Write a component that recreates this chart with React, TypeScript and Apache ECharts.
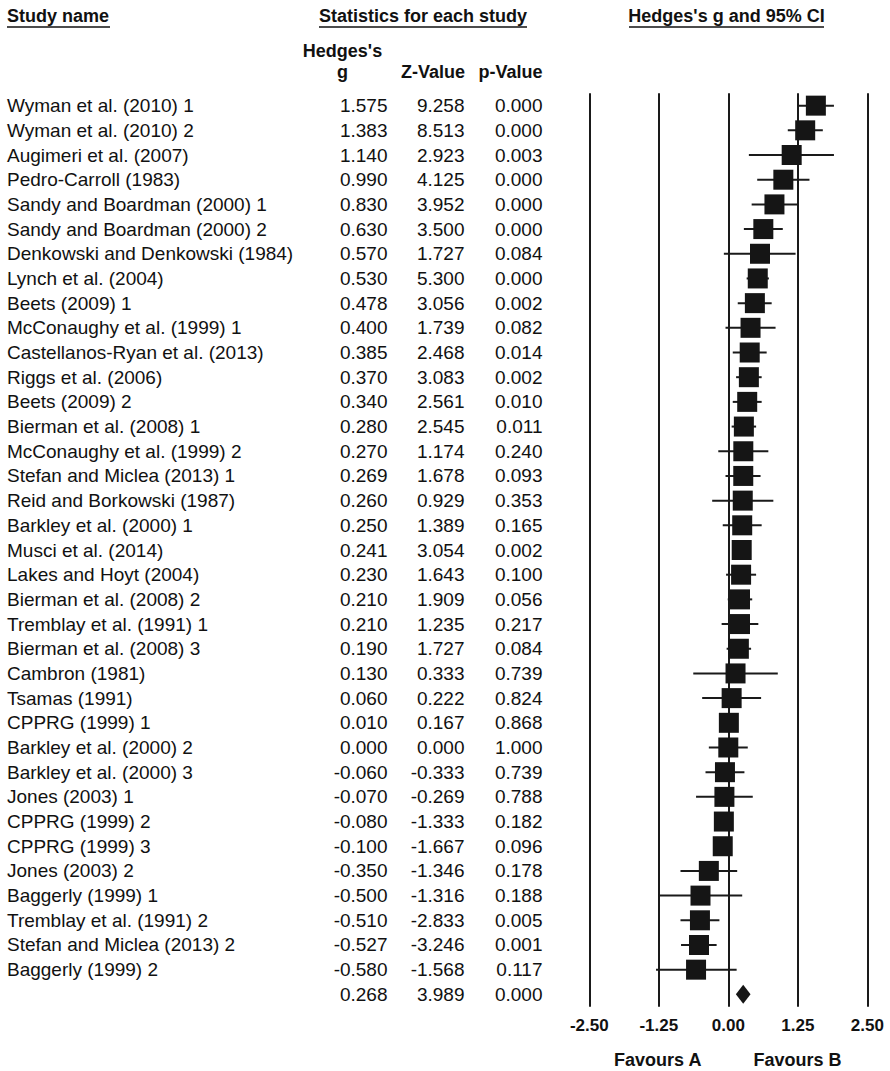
import React, { useEffect, useRef } from "react";
import * as echarts from "echarts";

const studies = [
  "Wyman et al. (2010) 1",
  "Wyman et al. (2010) 2",
  "Augimeri et al. (2007)",
  "Pedro-Carroll (1983)",
  "Sandy and Boardman (2000) 1",
  "Sandy and Boardman (2000) 2",
  "Denkowski and Denkowski (1984)",
  "Lynch et al. (2004)",
  "Beets (2009) 1",
  "McConaughy et al. (1999) 1",
  "Castellanos-Ryan et al. (2013)",
  "Riggs et al. (2006)",
  "Beets (2009) 2",
  "Bierman et al. (2008) 1",
  "McConaughy et al. (1999) 2",
  "Stefan and Miclea (2013) 1",
  "Reid and Borkowski (1987)",
  "Barkley et al. (2000) 1",
  "Musci et al. (2014)",
  "Lakes and Hoyt (2004)",
  "Bierman et al. (2008) 2",
  "Tremblay et al. (1991) 1",
  "Bierman et al. (2008) 3",
  "Cambron (1981)",
  "Tsamas (1991)",
  "CPPRG (1999) 1",
  "Barkley et al. (2000) 2",
  "Barkley et al. (2000) 3",
  "Jones (2003) 1",
  "CPPRG (1999) 2",
  "CPPRG (1999) 3",
  "Jones (2003) 2",
  "Baggerly (1999) 1",
  "Tremblay et al. (1991) 2",
  "Stefan and Miclea (2013) 2",
  "Baggerly (1999) 2",
];

const hedgesG = [
  1.575, 1.383, 1.14, 0.99, 0.83, 0.63, 0.57, 0.53, 0.478, 0.4, 0.385, 0.37,
  0.34, 0.28, 0.27, 0.269, 0.26, 0.25, 0.241, 0.23, 0.21, 0.21, 0.19, 0.13,
  0.06, 0.01, 0.0, -0.06, -0.07, -0.08, -0.1, -0.35, -0.5, -0.51, -0.527, -0.58,
];

const zValues = [
  9.258, 8.513, 2.923, 4.125, 3.952, 3.5, 1.727, 5.3, 3.056, 1.739, 2.468,
  3.083, 2.561, 2.545, 1.174, 1.678, 0.929, 1.389, 3.054, 1.643, 1.909, 1.235,
  1.727, 0.333, 0.222, 0.167, 0.0, -0.333, -0.269, -1.333, -1.667, -1.346,
  -1.316, -2.833, -3.246, -1.568,
];

const pValues = [
  0.0, 0.0, 0.003, 0.0, 0.0, 0.0, 0.084, 0.0, 0.002, 0.082, 0.014, 0.002, 0.01,
  0.011, 0.24, 0.093, 0.353, 0.165, 0.002, 0.1, 0.056, 0.217, 0.084, 0.739,
  0.824, 0.868, 1.0, 0.739, 0.788, 0.182, 0.096, 0.178, 0.188, 0.005, 0.001,
  0.117,
];

const ciLower = [
  1.25, 1.07, 0.37, 0.52, 0.42, 0.28, -0.08, 0.33, 0.17, -0.05, 0.08, 0.14,
  0.08, 0.06, -0.18, -0.05, -0.29, -0.1, 0.09, -0.04, -0.01, -0.12, -0.03,
  -0.63, -0.47, -0.11, -0.35, -0.41, -0.58, -0.2, -0.22, -0.86, -1.25, -0.86,
  -0.85, -1.3,
];

const ciUpper = [
  1.9, 1.7, 1.9, 1.46, 1.24, 0.98, 1.21, 0.73, 0.78, 0.85, 0.69, 0.6, 0.6,
  0.5, 0.72, 0.58, 0.81, 0.6, 0.4, 0.5, 0.43, 0.54, 0.41, 0.89, 0.59, 0.13,
  0.35, 0.29, 0.44, 0.04, 0.02, 0.16, 0.25, -0.16, -0.21, 0.15,
];

const summaryG = 0.268;
const summaryZ = 3.989;
const summaryP = 0.0;
const summaryLower = 0.136;
const summaryUpper = 0.4;

const xTicks = [-2.5, -1.25, 0, 1.25, 2.5];

const FONT = "'Liberation Sans', Arial, Helvetica, sans-serif";

export default function App() {
  const ref = useRef<HTMLDivElement>(null);

  useEffect(() => {
    if (!ref.current) return;
    const chart = echarts.init(ref.current, null, { renderer: "svg" });

    const nRows = studies.length + 1;
    const rowIds = Array.from({ length: nRows }, (_, i) => String(i));
    const nameLabels = [...studies, ""];
    const gLabels = [...hedgesG, summaryG].map((v) => v.toFixed(3));
    const zLabels = [...zValues, summaryZ].map((v) => v.toFixed(3));
    const pLabels = [...pValues, summaryP].map((v) => v.toFixed(3));

    const gridLeft = 589.3;

    const textAxis = (labels: string[], x: number, align: string) => ({
      type: "category",
      data: rowIds,
      inverse: true,
      position: "left",
      offset: gridLeft - x,
      gridIndex: 0,
      axisLine: { show: false },
      axisTick: { show: false },
      splitLine: { show: false },
      axisLabel: {
        interval: 0,
        margin: 0,
        align,
        fontSize: 19,
        color: "#111",
        fontFamily: FONT,
        formatter: (v: string) => labels[Number(v)],
      },
    });

    const boldText = (
      text: string,
      x: number,
      y: number,
      align: string,
      size = 18
    ) => ({
      type: "text",
      x,
      y,
      style: {
        text,
        fill: "#111",
        font: `bold ${size}px ${FONT}`,
        align,
        verticalAlign: "middle",
      },
    });

    const underline = (x1: number, x2: number, y: number) => ({
      type: "line",
      shape: { x1, y1: y, x2, y2: y },
      style: { stroke: "#111", lineWidth: 1.5 },
    });

    const option: any = {
      animation: false,
      backgroundColor: "#ffffff",
      textStyle: { fontFamily: FONT },
      grid: {
        left: gridLeft,
        top: 93.3,
        width: 278,
        height: 913.4,
        containLabel: false,
        outerBoundsMode: "none",
      },
      xAxis: {
        type: "value",
        min: xTicks[0],
        max: xTicks[xTicks.length - 1],
        interval: 1.25,
        axisLine: { show: false },
        axisTick: { show: false },
        splitLine: { show: true, lineStyle: { color: "#1a1a1a", width: 2 } },
        axisLabel: {
          margin: 10,
          fontSize: 17,
          fontWeight: "bold",
          color: "#111",
          fontFamily: FONT,
          showMinLabel: true,
          showMaxLabel: true,
          hideOverlap: false,
          formatter: (v: number) => v.toFixed(2),
        },
      },
      yAxis: [
        textAxis(nameLabels, 7, "left"),
        textAxis(gLabels, 387.5, "right"),
        textAxis(zLabels, 464.5, "right"),
        textAxis(pLabels, 542.5, "right"),
      ],
      series: [
        {
          type: "custom",
          xAxisIndex: 0,
          yAxisIndex: 0,
          encode: { x: [1, 2], y: 0 },
          data: studies.map((_, i) => [i, ciLower[i], ciUpper[i]]),
          renderItem: (_params: any, api: any) => {
            const row = api.value(0);
            const a = api.coord([api.value(1), row]);
            const b = api.coord([api.value(2), row]);
            return {
              type: "line",
              shape: { x1: a[0], y1: a[1], x2: b[0], y2: b[1] },
              style: { stroke: "#1a1a1a", lineWidth: 2 },
            };
          },
          z: 2,
        },
        {
          type: "scatter",
          xAxisIndex: 0,
          yAxisIndex: 0,
          symbol: "rect",
          symbolSize: 20,
          itemStyle: { color: "#151515", opacity: 1 },
          data: hedgesG.map((g, i) => [g, i]),
          z: 3,
        },
        {
          type: "custom",
          xAxisIndex: 0,
          yAxisIndex: 0,
          encode: { x: [1, 2, 3], y: 0 },
          data: [[studies.length, summaryLower, summaryG, summaryUpper]],
          renderItem: (_params: any, api: any) => {
            const row = api.value(0);
            const l = api.coord([api.value(1), row]);
            const c = api.coord([api.value(2), row]);
            const r = api.coord([api.value(3), row]);
            return {
              type: "polygon",
              shape: {
                points: [
                  [l[0], l[1]],
                  [c[0], c[1] - 9.5],
                  [r[0], r[1]],
                  [c[0], c[1] + 9.5],
                ],
              },
              style: { fill: "#151515" },
            };
          },
          z: 3,
        },
      ],
      graphic: [
        boldText("Study name", 7, 16, "left"),
        underline(7, 110, 27),
        boldText("Statistics for each study", 423, 16, "center"),
        underline(319, 527, 27),
        boldText("Hedges's g and 95% CI", 726.5, 16, "center"),
        underline(629, 824, 27),
        boldText("Hedges's", 342.5, 51, "center"),
        boldText("g", 342.5, 72, "center"),
        boldText("Z-Value", 465, 72, "right"),
        boldText("p-Value", 542.5, 72, "right"),
        boldText("Favours A", 657.7, 1060, "center"),
        boldText("Favours B", 797.5, 1060, "center"),
      ],
    };

    chart.setOption(option);
    return () => chart.dispose();
  }, []);

  return (
    <div
      ref={ref}
      style={{
        position: "absolute",
        left: 0,
        top: 0,
        width: 890,
        height: 1071,
        background: "#fff",
      }}
    />
  );
}
